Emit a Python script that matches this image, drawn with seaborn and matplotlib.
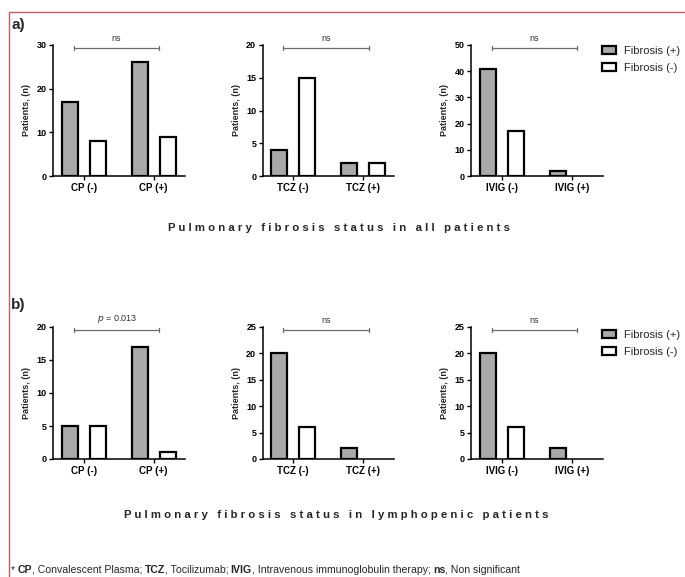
import matplotlib
matplotlib.use("Agg")
import matplotlib.pyplot as plt
import seaborn as sns
import pandas as pd
from matplotlib.patches import Patch
from matplotlib.lines import Line2D

# ---------------- data ----------------
hue_levels = ["Fibrosis (+)", "Fibrosis (-)"]

cp_labels = ["CP (-)", "CP (+)"]
tcz_labels = ["TCZ (-)", "TCZ (+)"]
ivig_labels = ["IVIG (-)", "IVIG (+)"]

# row a: all patients
a_cp_pos = [17, 26]
a_cp_neg = [8, 9]
a_tcz_pos = [4, 2]
a_tcz_neg = [15, 2]
a_ivig_pos = [41, 2]
a_ivig_neg = [17, 0]

# row b: lymphopenic patients
b_cp_pos = [5, 17]
b_cp_neg = [5, 1]
b_tcz_pos = [20, 2]
b_tcz_neg = [6, 0]
b_ivig_pos = [20, 2]
b_ivig_neg = [6, 0]

a_ymax = [30, 20, 50]
a_ystep = [10, 5, 10]
b_ymax = [20, 25, 25]
b_ystep = [5, 5, 5]

a_sig = ["ns", "ns", "ns"]
b_sig = ["$\\it{p}$ = 0.013", "ns", "ns"]

title_a = "Pulmonary fibrosis status in all patients"
title_b = "Pulmonary fibrosis status in lymphopenic patients"

# ---------------- style ----------------
sns.set_theme(style="ticks")
plt.rcParams["font.family"] = ["Liberation Sans", "DejaVu Sans"]

W, H = 685, 577
fig = plt.figure(figsize=(W / 100, H / 100), dpi=100)

GRAY = "#a9a9a9"
palette = {hue_levels[0]: GRAY, hue_levels[1]: "white"}


def fx(px):
    return px / W


def fy(py):
    return 1 - py / H


col_left = [53, 262.5, 471]
ax_w = 131.5


def make_panel(left_px, top_px, bottom_px, labels, pos, neg, ymax, ystep, sig):
    ax = fig.add_axes([fx(left_px), fy(bottom_px), ax_w / W, (bottom_px - top_px) / H])
    df = pd.DataFrame({
        "therapy": labels + labels,
        "n": pos + neg,
        "fib": [hue_levels[0]] * len(labels) + [hue_levels[1]] * len(labels),
    })
    sns.barplot(data=df, x="therapy", y="n", hue="fib", hue_order=hue_levels,
                order=labels, palette=palette, edgecolor="black", linewidth=1.6,
                gap=0.42, errorbar=None, legend=False, ax=ax)
    for p in ax.patches:
        if p.get_height() == 0:
            p.set_edgecolor("none")
    ax.set_xlim(-0.44, 1.44)
    ax.set_ylim(0, ymax)
    ax.set_yticks(range(0, ymax + 1, ystep))
    ax.set_xlabel("")
    ax.set_ylabel("Patients, (n)", fontsize=6.5, fontweight="bold", labelpad=4)
    for s in ["top", "right"]:
        ax.spines[s].set_visible(False)
    for s in ["left", "bottom"]:
        ax.spines[s].set_linewidth(1.1)
        ax.spines[s].set_color("black")
    ax.tick_params(axis="y", labelsize=6.5, width=1.0, length=3, pad=1.5, colors="black")
    ax.tick_params(axis="x", labelsize=7, width=1.0, length=3, pad=2, colors="black")
    for t in ax.get_xticklabels() + ax.get_yticklabels():
        t.set_fontweight("bold")
    ax.set_facecolor("white")
    # significance bracket
    yb = ymax * 0.978
    x0, x1 = -0.14, 1.08
    cap = ymax * 0.018
    ax.plot([x0, x1], [yb, yb], color="#6b6b6b", lw=0.9, clip_on=False)
    ax.plot([x0, x0], [yb - cap, yb + cap], color="#6b6b6b", lw=0.9, clip_on=False)
    ax.plot([x1, x1], [yb - cap, yb + cap], color="#6b6b6b", lw=0.9, clip_on=False)
    ax.text((x0 + x1) / 2, yb + ymax * 0.035, sig, ha="center", va="bottom",
            fontsize=6.5, color="#333333")
    return ax


rows = [
    (45, 176, a_ymax, a_ystep, a_sig,
     [(a_cp_pos, a_cp_neg), (a_tcz_pos, a_tcz_neg), (a_ivig_pos, a_ivig_neg)]),
    (327, 459, b_ymax, b_ystep, b_sig,
     [(b_cp_pos, b_cp_neg), (b_tcz_pos, b_tcz_neg), (b_ivig_pos, b_ivig_neg)]),
]
label_sets = [cp_labels, tcz_labels, ivig_labels]

legend_tops = [46, 330]
for r, (top, bot, ymaxs, ysteps, sigs, vals) in enumerate(rows):
    for c in range(3):
        make_panel(col_left[c], top, bot, label_sets[c], vals[c][0], vals[c][1],
                   ymaxs[c], ysteps[c], sigs[c])
    handles = [Patch(facecolor=palette[h], edgecolor="black", linewidth=1.6, label=h)
               for h in hue_levels]
    fig.legend(handles=handles, loc="upper left",
               bbox_to_anchor=(fx(602), fy(legend_tops[r])),
               frameon=False, fontsize=8, handlelength=1.3, handleheight=0.75,
               handletextpad=0.7, labelspacing=0.62, borderpad=0, borderaxespad=0)

# panel letters
fig.text(fx(11), fy(25), "a)", fontsize=11, fontweight="bold", va="center", ha="left")
fig.text(fx(11), fy(305), "b)", fontsize=11, fontweight="bold", va="center", ha="left")


def spaced(s):
    return "   ".join(" ".join(list(w)) for w in s.split(" "))


fig.text(fx(339), fy(228), spaced(title_a), fontsize=8.2, fontweight="bold",
         ha="center", va="center")
fig.text(fx(336), fy(515), spaced(title_b), fontsize=8.2, fontweight="bold",
         ha="center", va="center")

# footnote with mixed bold
pieces = [("*", "normal", 0), ("CP", "bold", 1), (", Convalescent Plasma;", "normal", 0),
          ("TCZ", "bold", 1), (", Tocilizumab;", "normal", 0),
          ("IVIG", "bold", 1), (", Intravenous immunoglobulin therapy;", "normal", 0),
          ("ns", "bold", 1), (", Non significant", "normal", 0)]
fig.canvas.draw()
renderer = fig.canvas.get_renderer()
xpos = 11.0
space_px = 2.3
for txt, wt, gap in pieces:
    if gap:
        xpos += space_px
    t = fig.text(fx(xpos), fy(570), txt, fontsize=7.6, fontweight=wt, ha="left", va="center")
    bb = t.get_window_extent(renderer=renderer)
    xpos += bb.width

# red frame
frame_col = "#c45a66"
fig.add_artist(Line2D([fx(8.5), 1.0], [fy(12), fy(12)], color=frame_col, lw=1.0))
fig.add_artist(Line2D([fx(8.5), fx(8.5)], [fy(12), 0.0], color=frame_col, lw=1.0))

fig.savefig("out.png", dpi=100, facecolor="white")
